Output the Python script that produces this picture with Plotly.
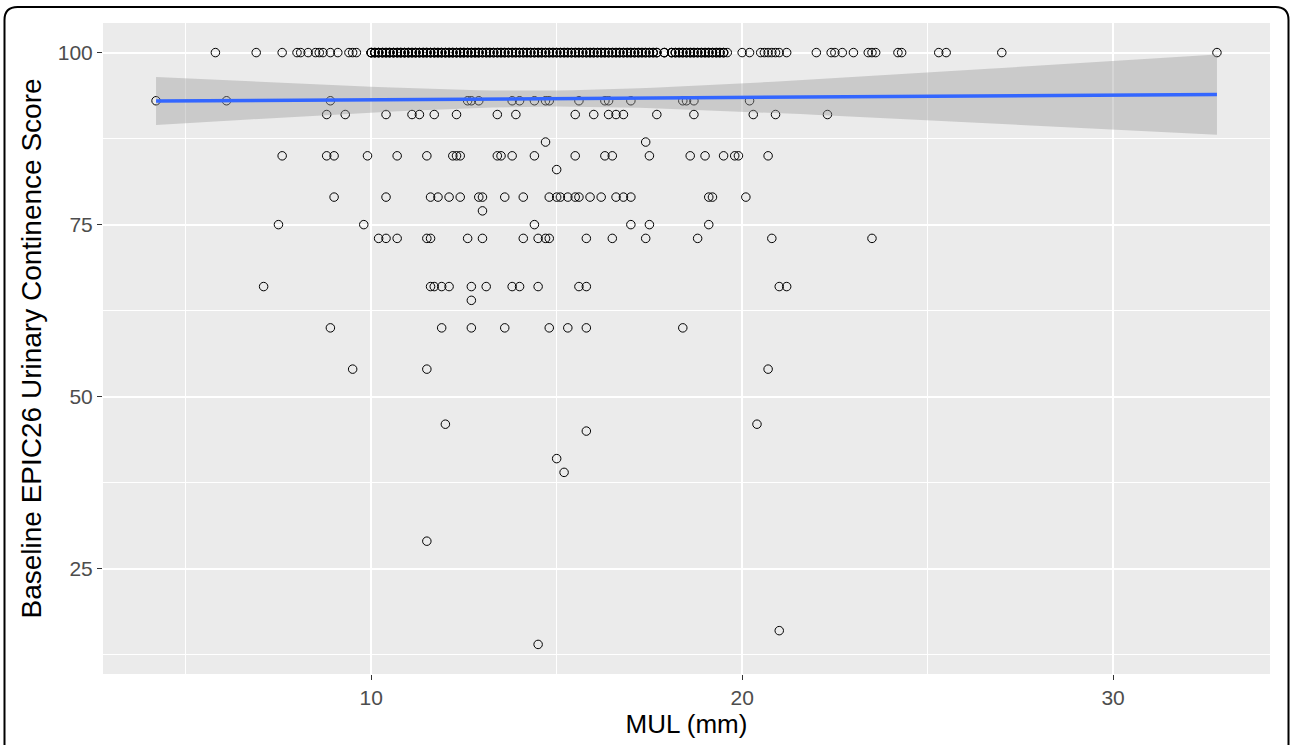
import numpy as np
import plotly.graph_objects as go

# ---------------- data (MUL in mm, grouped by baseline score) ----------------
# score 100: isolated points (one patient each)
mul_100_single = [5.8, 6.9, 7.6, 8.0, 8.1, 8.3, 8.5, 8.6, 8.7, 8.9, 9.1, 9.4, 9.5, 9.6,
                  19.6, 20.0, 20.2, 20.5, 20.6, 20.7, 20.8, 20.9, 21.0, 21.2, 22.0, 22.4,
                  22.5, 22.7, 23.0, 23.4, 23.5, 23.6, 24.2, 24.3, 25.3, 25.5, 27.0, 32.8]
# score 100: dense, overplotted band (estimated patients per position, hidden by overlap)
mul_100_stacked_a = [10.0, 10.1, 10.2, 10.3, 10.4, 10.5, 10.6, 10.7, 10.8, 10.9,
                     11.0, 11.1, 11.2, 11.3, 11.4, 11.5, 11.6, 11.7, 11.8, 11.9,
                     12.0, 12.1, 12.2, 12.3, 12.4, 12.5, 12.6, 12.7, 12.8, 12.9]
count_100_stacked_a = 4
mul_100_stacked_b = [13.0, 13.1, 13.2, 13.3, 13.4, 13.5, 13.6, 13.7, 13.8, 13.9,
                     14.0, 14.1, 14.2, 14.3, 14.4, 14.5, 14.6, 14.7, 14.8, 14.9,
                     15.0, 15.1, 15.2, 15.3, 15.4, 15.5, 15.6, 15.7, 15.8, 15.9,
                     16.0, 16.1, 16.2, 16.3, 16.4, 16.5, 16.6, 16.7, 16.8, 16.9,
                     17.0, 17.1, 17.2, 17.3, 17.4, 17.5, 17.6, 17.7, 17.9,
                     18.1, 18.2, 18.3, 18.4, 18.5, 18.6, 18.7, 18.8, 18.9,
                     19.0, 19.1, 19.2, 19.3, 19.4, 19.5]
count_100_stacked_b = 3

mul_93 = [4.2, 6.1, 8.9, 12.6, 12.7, 12.9, 13.8, 14.0, 14.4, 14.7, 14.8, 15.6, 16.3, 16.4,
          17.0, 18.4, 18.5, 18.7, 20.2]
mul_91 = [8.8, 9.3, 10.4, 11.1, 11.3, 11.7, 12.3, 13.4, 13.9, 15.5, 16.0, 16.4, 16.6, 16.8,
          17.7, 18.7, 20.3, 20.9, 22.3]
mul_87 = [14.7, 17.4]
mul_85 = [7.6, 8.8, 9.0, 9.9, 10.7, 11.5, 12.2, 12.3, 12.4, 13.4, 13.5, 13.8, 14.4, 15.5,
          16.3, 16.5, 17.5, 18.6, 19.0, 19.5, 19.8, 19.9, 20.7]
mul_83 = [15.0]
mul_79 = [9.0, 10.4, 11.6, 11.8, 12.1, 12.4, 12.9, 13.0, 13.6, 14.1, 14.8, 15.0, 15.1, 15.3,
          15.5, 15.6, 15.9, 16.2, 16.6, 16.8, 17.0, 19.1, 19.2, 20.1]
mul_77 = [13.0]
mul_75 = [7.5, 9.8, 14.4, 17.0, 17.5, 19.1]
mul_73 = [10.2, 10.4, 10.7, 11.5, 11.6, 12.6, 13.0, 14.1, 14.5, 14.7, 14.8, 15.8, 16.5,
          17.4, 18.8, 20.8, 23.5]
mul_66 = [7.1, 11.6, 11.7, 11.9, 12.1, 12.7, 13.1, 13.8, 14.0, 14.5, 15.6, 15.8, 21.0, 21.2]
mul_64 = [12.7]
mul_60 = [8.9, 11.9, 12.7, 13.6, 14.8, 15.3, 15.8, 18.4]
low_mul = [9.5, 11.5, 20.7, 12.0, 20.4, 15.8, 15.0, 15.2, 11.5, 21.0, 14.5]
low_score = [54, 54, 54, 46, 46, 45, 41, 39, 29, 16, 14]

x_title = "MUL (mm)"
y_title = "Baseline EPIC26 Urinary Continence Score"
x_ticks = [10, 20, 30]
y_ticks = [25, 50, 75, 100]

# ---------------- assemble ----------------
xs, ys = [], []
xs += mul_100_single; ys += [100] * len(mul_100_single)
for _ in range(count_100_stacked_a):
    xs += mul_100_stacked_a; ys += [100] * len(mul_100_stacked_a)
for _ in range(count_100_stacked_b):
    xs += mul_100_stacked_b; ys += [100] * len(mul_100_stacked_b)
for score, lst in [(93, mul_93), (91, mul_91), (87, mul_87), (85, mul_85), (83, mul_83),
                   (79, mul_79), (77, mul_77), (75, mul_75), (73, mul_73), (66, mul_66),
                   (64, mul_64), (60, mul_60)]:
    xs += lst; ys += [score] * len(lst)
xs += low_mul; ys += low_score

x = np.array(xs, dtype=float)
y = np.array(ys, dtype=float)

# linear fit with 95% confidence band (like geom_smooth(method="lm"))
n = len(x)
b1, b0 = np.polyfit(x, y, 1)
xbar = x.mean()
resid = y - (b0 + b1 * x)
s = np.sqrt(np.sum(resid ** 2) / (n - 2))
sxx = np.sum((x - xbar) ** 2)
df = n - 2
z = 1.959964
tq = z + (z ** 3 + z) / (4 * df) + (5 * z ** 5 + 16 * z ** 3 + 3 * z) / (96 * df ** 2)
xg = np.linspace(x.min(), x.max(), 80)
yg = b0 + b1 * xg
se = s * np.sqrt(1.0 / n + (xg - xbar) ** 2 / sxx)
upper = yg + tq * se
lower = yg - tq * se

# ---------------- figure ----------------
fig = go.Figure()
fig.add_trace(go.Scatter(
    x=x, y=y, mode="markers",
    marker=dict(symbol="circle-open", size=8.5, color="black", line=dict(width=1)),
    hoverinfo="x+y", showlegend=False))
fig.add_trace(go.Scatter(
    x=np.concatenate([xg, xg[::-1]]), y=np.concatenate([upper, lower[::-1]]),
    fill="toself", fillcolor="rgba(153,153,153,0.4)", line=dict(width=0),
    mode="lines", hoverinfo="skip", showlegend=False))
fig.add_trace(go.Scatter(
    x=xg, y=yg, mode="lines", line=dict(color="#3366FF", width=3.5),
    hoverinfo="skip", showlegend=False))

W, H = 1290, 745
ml, mr, mt, mb = 103, 20, 23, 71
pw, ph = W - ml - mr, H - mt - mb

def px(xp):
    return (xp - ml) / pw

def py(yp):
    return 1 - (yp - mt) / ph

# rounded frame around the whole figure
L, R, T, B, r = 4.5, 1288.5, 7, 760, 13
path = (f"M {px(L)},{py(T + r)} Q {px(L)},{py(T)} {px(L + r)},{py(T)} "
        f"L {px(R - r)},{py(T)} Q {px(R)},{py(T)} {px(R)},{py(T + r)} "
        f"L {px(R)},{py(B)} L {px(L)},{py(B)} Z")
fig.add_shape(type="path", path=path, xref="paper", yref="paper",
              line=dict(color="black", width=2), fillcolor="rgba(0,0,0,0)", layer="above")

font = "Liberation Sans, Arial, Helvetica, sans-serif"
fig.update_layout(
    width=W, height=H,
    margin=dict(l=ml, r=mr, t=mt, b=mb, autoexpand=False),
    paper_bgcolor="white", plot_bgcolor="#EBEBEB",
    font=dict(family=font, color="black"),
    xaxis=dict(range=[2.77, 34.23], tickvals=x_ticks, ticktext=[str(v) for v in x_ticks],
               showgrid=True, gridcolor="white", gridwidth=2,
               minor=dict(tickvals=[5, 15, 25], showgrid=True, gridcolor="white", gridwidth=1, ticks=""),
               ticks="outside", ticklen=5, tickwidth=1.2, tickcolor="#333333",
               tickfont=dict(size=21, color="#4D4D4D", family=font),
               zeroline=False, showline=False,
               title=dict(text=x_title, font=dict(size=26, color="black", family=font), standoff=5)),
    yaxis=dict(range=[9.7, 104.3], tickvals=y_ticks, ticktext=[str(v) for v in y_ticks],
               showgrid=True, gridcolor="white", gridwidth=2,
               minor=dict(tickvals=[12.5, 37.5, 62.5, 87.5], showgrid=True, gridcolor="white", gridwidth=1, ticks=""),
               ticks="outside", ticklen=5, tickwidth=1.2, tickcolor="#333333",
               tickfont=dict(size=21, color="#4D4D4D", family=font),
               zeroline=False, showline=False,
               title=dict(text=y_title, font=dict(size=28, color="black", family=font), standoff=7)),
)

fig.write_html("out.html", config={"displayModeBar": False},
               post_script="document.body.style.margin='0px';")
